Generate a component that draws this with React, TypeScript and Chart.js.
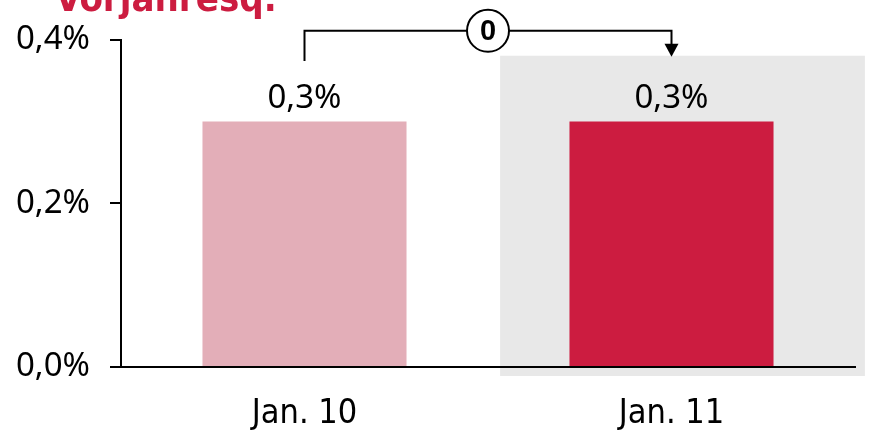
import React, { useEffect, useRef } from "react";
import { Chart, registerables } from "chart.js";

Chart.register(...registerables);

const categories = ["Jan. 10", "Jan. 11"];
const values = [0.3, 0.3];
const barColors = ["#e3aeb8", "#cc1c40"];
const yTicks = [0, 0.2, 0.4];
const changeLabel = "0";
const titleText = "Vorjahresq.";
const highlightIndex = 1;

const fmt = (v: number) => v.toFixed(1).replace(".", ",") + "%";

const highlightPlugin = {
  id: "highlight",
  beforeDraw(chart: any) {
    const { ctx, scales } = chart;
    const x = scales.x;
    const y = scales.y;
    const c = x.getPixelForValue(highlightIndex);
    const w = x.getPixelForValue(1) - x.getPixelForValue(0);
    ctx.save();
    ctx.fillStyle = "#e8e8e8";
    const left = c - w * 0.467;
    const right = c + w * 0.527;
    const top = y.getPixelForValue(0.3805);
    const bottom = y.getPixelForValue(0) + 9;
    ctx.fillRect(left, top, right - left, bottom - top);
    ctx.restore();
  },
};

const labelsPlugin = {
  id: "barLabels",
  afterDatasetsDraw(chart: any) {
    const { ctx } = chart;
    const meta = chart.getDatasetMeta(0);
    ctx.save();
    ctx.font = '33px "Noto Sans"';
    ctx.fillStyle = "#000";
    ctx.textAlign = "center";
    ctx.textBaseline = "alphabetic";
    meta.data.forEach((bar: any, i: number) => {
      ctx.fillText(fmt(values[i]), bar.x, bar.y - 14);
    });
    ctx.restore();
  },
};

const annotationPlugin = {
  id: "arrowAnnot",
  afterDraw(chart: any) {
    const { ctx, scales } = chart;
    const meta = chart.getDatasetMeta(0);
    const x1 = meta.data[0].x;
    const x2 = meta.data[1].x;
    const y = scales.y;
    const lineY = y.getPixelForValue(0.411);
    const startY = y.getPixelForValue(0.374);
    const tipY = y.getPixelForValue(0.3805);
    const cx = (x1 + x2) / 2;
    const r = 21;
    ctx.save();
    ctx.strokeStyle = "#000";
    ctx.lineWidth = 2;
    ctx.beginPath();
    ctx.moveTo(x1, startY);
    ctx.lineTo(x1, lineY);
    ctx.lineTo(cx - r, lineY);
    ctx.moveTo(cx + r, lineY);
    ctx.lineTo(x2, lineY);
    ctx.lineTo(x2, tipY - 11);
    ctx.stroke();
    ctx.beginPath();
    ctx.arc(cx, lineY, r, 0, Math.PI * 2);
    ctx.fillStyle = "#fff";
    ctx.fill();
    ctx.stroke();
    ctx.fillStyle = "#000";
    ctx.beginPath();
    ctx.moveTo(x2 - 7, tipY - 12);
    ctx.lineTo(x2 + 7, tipY - 12);
    ctx.lineTo(x2, tipY + 1);
    ctx.closePath();
    ctx.fill();
    ctx.font = 'bold 29px "Liberation Sans"';
    ctx.textAlign = "center";
    ctx.textBaseline = "middle";
    ctx.fillText(changeLabel, cx, lineY + 1);
    ctx.restore();
  },
};

const titlePlugin = {
  id: "cutTitle",
  afterDraw(chart: any) {
    const { ctx } = chart;
    ctx.save();
    ctx.font = 'bold 38px "DejaVu Sans Condensed"';
    ctx.fillStyle = "#cc1c40";
    ctx.textAlign = "left";
    ctx.textBaseline = "alphabetic";
    ctx.fillText(titleText, 55, 11);
    ctx.restore();
  },
};

export default function App() {
  const ref = useRef<HTMLCanvasElement>(null);
  useEffect(() => {
    document.body.style.margin = "0";
    const chart = new Chart(ref.current!, {
      type: "bar",
      data: {
        labels: categories,
        datasets: [
          {
            data: values,
            backgroundColor: barColors,
            categoryPercentage: 1,
            barPercentage: 0.556,
          },
        ],
      },
      options: {
        responsive: false,
        animation: false,
        layout: { padding: { top: 39, right: 15, left: 0, bottom: 0 } },
        plugins: {
          legend: { display: false },
          tooltip: { enabled: false },
          title: { display: false },
        },
        scales: {
          x: {
            grid: { display: false, drawTicks: false },
            border: { display: true, color: "#000", width: 2 },
            ticks: {
              padding: 27,
              color: "#000",
              font: { family: '"DejaVu Sans Condensed"', size: 34 },
            },
            afterFit(scale: any) {
              scale.height = 64;
            },
          },
          y: {
            min: 0,
            max: 0.4,
            afterBuildTicks(scale: any) {
              scale.ticks = yTicks.map((v) => ({ value: v }));
            },
            ticks: {
              padding: 20,
              color: "#000",
              font: { family: '"Noto Sans"', size: 33 },
              callback: (v: any) => fmt(Number(v)),
            },
            grid: {
              drawOnChartArea: false,
              drawTicks: true,
              tickLength: 11,
              color: "#000",
              lineWidth: 2,
            },
            border: { display: true, color: "#000", width: 2 },
            afterFit(scale: any) {
              scale.width = 121;
            },
          },
        },
      },
      plugins: [highlightPlugin, labelsPlugin, annotationPlugin, titlePlugin],
    });
    return () => chart.destroy();
  }, []);
  return (
    <div style={{ width: 870, height: 431 }}>
      <canvas ref={ref} width={870} height={431} />
    </div>
  );
}
